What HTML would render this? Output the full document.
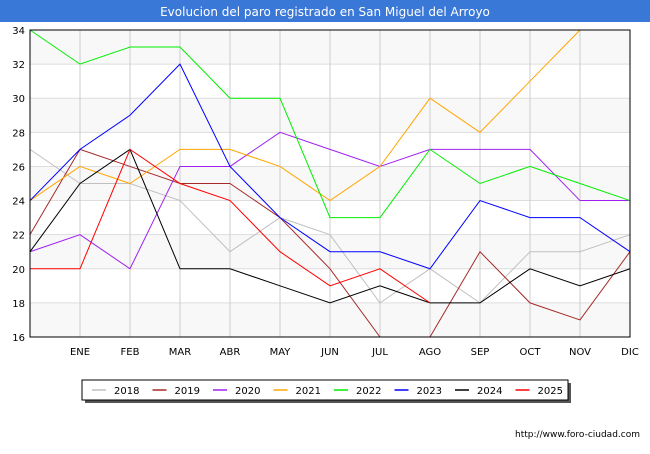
<!DOCTYPE html>
<html><head><meta charset="utf-8"><style>
body{margin:0;background:#fff;font-family:"DejaVu Sans",sans-serif}
</style></head><body>
<svg width="650" height="450" xmlns="http://www.w3.org/2000/svg" style="font-family:'DejaVu Sans',sans-serif">
<rect x="0" y="0" width="650" height="22" fill="#3a78d8"/>
<text x="325" y="16" text-anchor="middle" fill="#fff" font-size="12">Evolucion del paro registrado en San Miguel del Arroyo</text>
<g id="grid"></g>
<g id="series"></g>
<rect x="30" y="30" width="600" height="307" fill="none" stroke="#000" stroke-width="1"/>
<g id="axes" font-size="10" fill="#000"></g>
<rect x="85" y="383" width="486" height="20" fill="#555"/>
<rect x="82" y="380" width="486" height="20" fill="#fff" stroke="#000"/>
<g id="legend" font-size="10"></g>
<text x="640" y="437" text-anchor="end" font-size="9" fill="#000">http://www.foro-ciudad.com</text>
</svg>
<script>
const months=["","ENE","FEB","MAR","ABR","MAY","JUN","JUL","AGO","SEP","OCT","NOV","DIC"];
const yTicks=[16,18,20,22,24,26,28,30,32,34];
const years=["2018","2019","2020","2021","2022","2023","2024","2025"];
const colors=["#c0c0c0","#a52a2a","#a020f0","#ffa500","#00ee00","#0000ff","#000000","#ff0000"];
const s2018=[27,25,25,24,21,23,22,18,20,18,21,21,22];
const s2019=[22,27,26,25,25,23,20,16,16,21,18,17,21];
const s2020=[21,22,20,26,26,28,27,26,27,27,27,24,24];
const s2021=[24,26,25,27,27,26,24,26,30,28,31,34,null];
const s2022=[34,32,33,33,30,30,23,23,27,25,26,25,24];
const s2023=[24,27,29,32,26,23,21,21,20,24,23,23,21];
const s2024=[21,25,27,20,20,19,18,19,18,18,20,19,20];
const s2025=[20,20,27,25,24,21,19,20,18,null,null,null,null];
const series=[s2018,s2019,s2020,s2021,s2022,s2023,s2024,s2025];
const NS="http://www.w3.org/2000/svg";
const X=i=>30+i*50, Y=v=>337-(v-16)*307/18;
function mk(t,a,p){const e=document.createElementNS(NS,t);for(const k in a)e.setAttribute(k,a[k]);p.appendChild(e);return e;}
const grid=document.getElementById('grid'),axes=document.getElementById('axes');
for(let k=0;k<yTicks.length-1;k+=2){
 const b=mk('rect',{x:30,y:Y(yTicks[k+1]),width:600,height:Y(yTicks[k])-Y(yTicks[k+1]),fill:'#f8f8f8'},grid);
 
 
}
yTicks.forEach(v=>{
 const l=mk('line',{x1:30,x2:630,y1:Y(v),y2:Y(v),stroke:'#ddd'},grid);
 
 
 const t=mk('text',{x:25,y:Y(v)+4,'text-anchor':'end'},axes);t.textContent=v;
 
 
});
months.forEach((m,i)=>{
 if(i>0&&i<12){const l=mk('line',{x1:X(i),x2:X(i),y1:30,y2:337,stroke:'#ccc'},grid);
 
 }
 if(m){const t=mk('text',{x:X(i),y:355,'text-anchor':'middle'},axes);t.textContent=m;
 
 }
});
const sg=document.getElementById('series');
series.forEach((s,k)=>{
 let d='';s.forEach((v,i)=>{if(v==null)return;d+=(d?'L':'M')+X(i)+' '+Y(v)+' ';});
 const p=mk('path',{d:d,fill:'none',stroke:colors[k],'stroke-width':1},sg);
 
 
});
const lg=document.getElementById('legend');
years.forEach((y,k)=>{
 const x0=92+k*60.5;
 const l=mk('line',{x1:x0,x2:x0+14,y1:390,y2:390,stroke:colors[k],'stroke-width':1.5},lg);
 
 
 const t=mk('text',{x:x0+22,y:394},lg);t.textContent=y;
 
 
});
</script>
</body></html>
